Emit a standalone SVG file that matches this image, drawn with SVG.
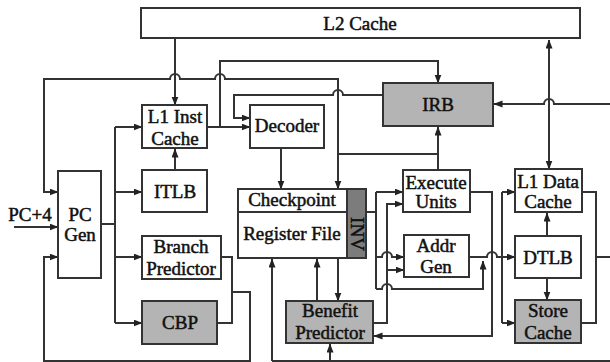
<svg xmlns="http://www.w3.org/2000/svg" width="610" height="362" viewBox="0 0 610 362">
  <defs>
    <marker id="arr" markerWidth="9" markerHeight="8" refX="8.5" refY="3.5" orient="auto-start-reverse" markerUnits="userSpaceOnUse">
      <path d="M0,0 L9,3.5 L0,7 z" fill="#222"/>
    </marker>
    <style>
      .box { fill: #fff; stroke: #333; stroke-width: 2; }
      .gray { fill: #b4b4b4; stroke: #333; stroke-width: 2; }
      .dark { fill: #7c7c7c; stroke: #333; stroke-width: 2; }
      .w { fill: none; stroke: #333; stroke-width: 2; }
      .a { fill: none; stroke: #333; stroke-width: 2; marker-end: url(#arr); }
      text { font-family: 'Liberation Serif', 'Times New Roman', 'DejaVu Serif', serif; font-size: 19px; fill: #111; text-anchor: middle; stroke: #111; stroke-width: 0.5; }
    </style>
  </defs>
  <rect width="610" height="362" fill="#fff"/>

  <g id="connectors">
    <!-- L2 to L1 instruction cache, ITLB to L1 instruction cache -->
    <path class="a" d="M175,38 V105"/>
    <path class="a" d="M175,170 V149"/>
    <!-- PC Gen fan-out -->
    <path class="w" d="M101,224 H115"/>
    <path class="w" d="M115,127 V323"/>
    <path class="a" d="M115,127 H142"/>
    <path class="a" d="M115,192 H142"/>
    <path class="a" d="M115,257 H142"/>
    <path class="a" d="M115,323 H142"/>
    <!-- PC+4 -->
    <path class="a" d="M14,227 H58"/>
    <!-- L1 instruction cache to decoder and IRB -->
    <path class="a" d="M207,127 H250"/>
    <path class="a" d="M220,127 V61 H438 V83"/>
    <!-- redirect from execute back to PC Gen and checkpoint -->
    <path class="a" d="M338,154 V79 H225 a5,5 0 0 0 -10,0 H180 a5,5 0 0 0 -10,0 H44 V192 H58"/>
    <path class="a" d="M338,154 V189"/>
    <path class="w" d="M438,154 H338"/>
    <path class="a" d="M438,170 V127"/>
    <!-- IRB to decoder -->
    <path class="a" d="M383,95 H343 a5,5 0 0 0 -10,0 H234 V118 H250"/>
    <!-- decoder to checkpoint -->
    <path class="a" d="M281,148 V189"/>
    <!-- register file outputs -->
    <path class="w" d="M366,212 H376 M376,192 V289"/>
    <path class="a" d="M376,192 H403"/>
    <path class="a" d="M376,257 H382 a5,5 0 0 1 10,0 H404"/>
    <path class="a" d="M376,289 H382 a5,5 0 0 1 10,0 H483 V261"/>
    <!-- benefit predictor to execute and address generation -->
    <path class="a" d="M373,323 H387 V204 H403"/>
    <path class="a" d="M387,270 H404"/>
    <!-- execute units back to benefit predictor -->
    <path class="a" d="M470,192 H492 V336 H374"/>
    <!-- address generation to data side -->
    <path class="a" d="M469,257 H487 a5,5 0 0 1 10,0 H515"/>
    <path class="w" d="M502,192 V323"/>
    <path class="a" d="M502,192 H515"/>
    <path class="a" d="M502,323 H515"/>
    <!-- L2 to L1 data cache -->
    <path class="a" d="M549,40 V169" style="marker-start:url(#arr)"/>
    <!-- incoming line to IRB -->
    <path class="a" d="M610,104 H554 a5,5 0 0 0 -10,0 H494"/>
    <!-- DTLB to caches -->
    <path class="a" d="M547,236 V213"/>
    <path class="a" d="M547,278 V300"/>
    <!-- data side outputs -->
    <path class="w" d="M582,192 H596 V323 H581 M596,257 H610"/>
    <!-- register file inputs -->
    <path class="a" d="M272,361 V259"/>
    <path class="a" d="M317,301 V259"/>
    <path class="a" d="M338,258 V301"/>
    <path class="w" d="M272,361 H610"/>
    <path class="a" d="M330,361 V344"/>
    <!-- branch predictors back to PC Gen -->
    <path class="w" d="M221,257 H232 V323 H217"/>
    <path class="a" d="M232,292 H250 V361 H44 V257 H58"/>
  </g>

  <g id="l2cache">
    <rect class="box" x="141" y="8" width="439" height="30"/>
    <text x="360" y="30">L2 Cache</text>
  </g>
  <g id="pcgen">
    <rect class="box" x="58" y="171" width="43" height="107"/>
    <text x="80" y="221">PC</text>
    <text x="80" y="241">Gen</text>
  </g>
  <g id="pc4">
    <text x="30" y="221">PC+4</text>
  </g>
  <g id="l1inst">
    <rect class="box" x="142" y="105" width="65" height="43"/>
    <text x="175" y="123">L1 Inst</text>
    <text x="175" y="145">Cache</text>
  </g>
  <g id="itlb">
    <rect class="box" x="142" y="170" width="65" height="42"/>
    <text x="175" y="198">ITLB</text>
  </g>
  <g id="branch">
    <rect class="box" x="142" y="236" width="79" height="43"/>
    <text x="181" y="253">Branch</text>
    <text x="181" y="275">Predictor</text>
  </g>
  <g id="cbp">
    <rect class="gray" x="142" y="301" width="75" height="43"/>
    <text x="180" y="329">CBP</text>
  </g>
  <g id="decoder">
    <rect class="box" x="250" y="105" width="74" height="43"/>
    <text x="287" y="132">Decoder</text>
  </g>
  <g id="irb">
    <rect class="gray" x="383" y="83" width="110" height="43"/>
    <text x="438" y="111">IRB</text>
  </g>
  <g id="regfile">
    <rect class="box" x="238" y="189" width="128" height="69"/>
    <line class="w" x1="238" y1="212" x2="347" y2="212"/>
    <rect class="dark" x="347" y="189" width="19" height="69"/>
    <text x="292" y="206">Checkpoint</text>
    <text x="292" y="240">Register File</text>
    <text transform="translate(351,234) rotate(90)">INV</text>
  </g>
  <g id="benefit">
    <rect class="gray" x="286" y="301" width="87" height="42"/>
    <text x="330" y="317">Benefit</text>
    <text x="330" y="339">Predictor</text>
  </g>
  <g id="execute">
    <rect class="box" x="403" y="170" width="67" height="42"/>
    <text x="436" y="189">Execute</text>
    <text x="436" y="208">Units</text>
  </g>
  <g id="addrgen">
    <rect class="box" x="404" y="235" width="65" height="42"/>
    <text x="436" y="252">Addr</text>
    <text x="436" y="273">Gen</text>
  </g>
  <g id="l1data">
    <rect class="box" x="515" y="169" width="67" height="43"/>
    <text x="548" y="188">L1 Data</text>
    <text x="548" y="208">Cache</text>
  </g>
  <g id="dtlb">
    <rect class="box" x="515" y="236" width="66" height="42"/>
    <text x="548" y="264">DTLB</text>
  </g>
  <g id="storecache">
    <rect class="gray" x="515" y="300" width="66" height="43"/>
    <text x="548" y="317">Store</text>
    <text x="548" y="339">Cache</text>
  </g>
</svg>
